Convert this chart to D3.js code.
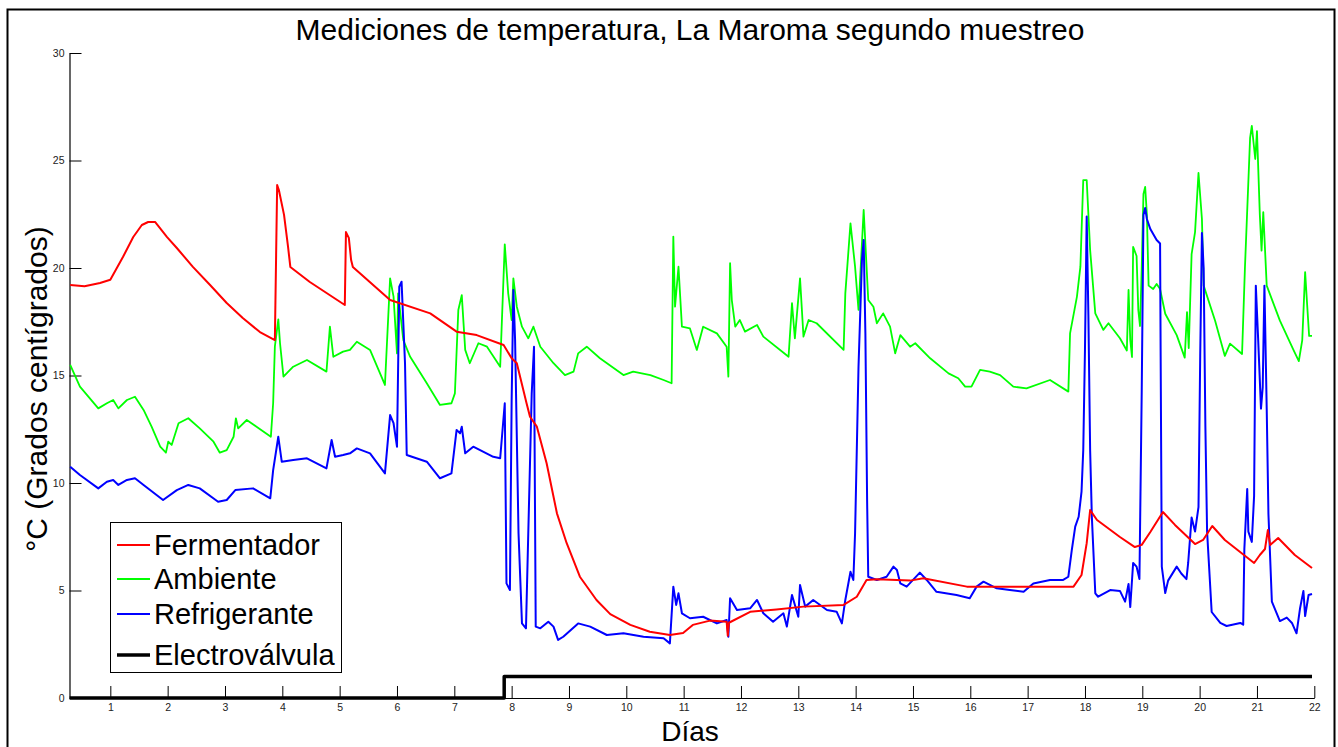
<!DOCTYPE html>
<html>
<head>
<meta charset="utf-8">
<script src="https://cdn.jsdelivr.net/npm/d3@7"></script>
<style>
  html, body { margin: 0; padding: 0; background: #fff; }
  svg { display: block; font-family: "Liberation Sans", Arial, sans-serif; }
</style>
</head>
<body>
<svg id="chart" width="1338" height="747"></svg>
<script>
// Temperature readings, [day, °C]
const fermentador = [[0.30,19.21],[0.55,19.15],[0.82,19.30],[1.0,19.45],[1.22,20.51],[1.40,21.44],[1.55,22.0],[1.66,22.14],[1.78,22.14],[1.99,21.44],[2.16,20.93],[2.44,20.05],[2.74,19.21],[3.03,18.37],[3.31,17.67],[3.61,17.02],[3.87,16.65],[3.91,23.86],[3.94,23.63],[4.03,22.47],[4.10,20.98],[4.14,20.05],[4.48,19.35],[5.09,18.28],[5.11,21.67],[5.16,21.4],[5.20,20.37],[5.23,20.05],[5.88,18.51],[6.58,17.89],[7.04,17.04],[7.39,16.88],[7.86,16.42],[8.0,15.8],[8.09,15.57],[8.26,13.71],[8.32,13.08],[8.44,12.62],[8.61,10.92],[8.79,8.59],[8.96,7.2],[9.19,5.64],[9.48,4.56],[9.72,3.9],[10.07,3.40],[10.41,3.08],[10.76,2.93],[10.99,3.02],[11.16,3.40],[11.46,3.60],[11.75,3.55],[11.77,2.9],[11.79,3.5],[12.16,4.01],[12.62,4.12],[13.09,4.25],[13.79,4.33],[14.02,4.71],[14.19,5.49],[14.37,5.52],[14.95,5.46],[15.18,5.57],[15.94,5.18],[16.93,5.18],[17.80,5.18],[17.94,5.72],[18.03,7.2],[18.09,8.74],[18.21,8.28],[18.61,7.49],[18.87,7.02],[18.99,7.12],[19.14,7.72],[19.36,8.65],[19.57,8.05],[19.92,7.16],[20.06,7.35],[20.22,8.0],[20.44,7.35],[20.95,6.28],[21.05,6.65],[21.14,6.93],[21.19,7.81],[21.23,7.12],[21.37,7.44],[21.66,6.65],[21.96,6.05]];

const ambiente = [[0.30,15.49],[0.47,14.48],[0.79,13.47],[0.94,13.71],[1.05,13.86],[1.14,13.47],[1.29,13.86],[1.43,14.01],[1.58,13.40],[1.72,12.62],[1.87,11.69],[1.97,11.41],[2.01,11.92],[2.07,11.77],[2.19,12.78],[2.36,13.01],[2.56,12.54],[2.80,11.92],[2.91,11.41],[3.03,11.53],[3.15,12.15],[3.19,13.01],[3.23,12.54],[3.38,12.93],[3.55,12.62],[3.80,12.15],[3.84,13.71],[3.87,16.34],[3.93,17.61],[3.96,16.50],[4.02,14.95],[4.19,15.41],[4.43,15.72],[4.77,15.18],[4.83,17.27],[4.89,15.87],[5.06,16.11],[5.18,16.19],[5.30,16.57],[5.53,16.19],[5.79,14.56],[5.88,19.52],[5.94,18.67],[6.0,16.03],[6.02,18.82],[6.11,16.65],[6.23,15.87],[6.52,14.64],[6.75,13.63],[6.95,13.71],[7.01,14.17],[7.07,18.05],[7.13,18.74],[7.19,16.19],[7.27,15.57],[7.42,16.50],[7.57,16.34],[7.80,15.41],[7.88,21.1],[7.94,18.82],[8.0,17.58],[8.03,19.52],[8.09,18.20],[8.18,17.27],[8.29,16.73],[8.38,17.27],[8.50,16.34],[8.73,15.57],[8.93,15.02],[9.08,15.18],[9.16,16.03],[9.31,16.34],[9.54,15.80],[9.95,15.02],[10.12,15.18],[10.42,15.02],[10.65,14.79],[10.79,14.64],[10.82,21.46],[10.85,18.20],[10.91,20.06],[10.97,17.27],[11.11,17.19],[11.23,16.19],[11.34,17.27],[11.58,16.96],[11.75,16.34],[11.78,14.95],[11.81,20.22],[11.84,18.51],[11.90,17.27],[11.98,17.58],[12.07,17.04],[12.28,17.35],[12.39,16.81],[12.83,15.87],[12.89,18.36],[12.94,16.73],[13.03,19.52],[13.09,16.81],[13.18,17.58],[13.32,17.43],[13.79,16.19],[13.82,18.82],[13.91,22.08],[13.99,20.06],[14.05,18.05],[14.14,22.70],[14.22,18.51],[14.31,18.20],[14.37,17.43],[14.48,17.89],[14.60,17.27],[14.69,16.03],[14.78,16.88],[14.95,16.34],[15.04,16.50],[15.30,15.80],[15.62,15.10],[15.79,14.87],[15.91,14.48],[16.02,14.48],[16.17,15.26],[16.34,15.18],[16.52,15.02],[16.75,14.48],[16.98,14.40],[17.39,14.79],[17.71,14.25],[17.74,16.96],[17.86,18.67],[17.92,20.06],[17.97,24.09],[18.03,24.09],[18.09,20.84],[18.18,17.89],[18.32,17.12],[18.41,17.43],[18.61,16.73],[18.73,16.16],[18.76,18.98],[18.79,16.65],[18.82,15.86],[18.84,20.98],[18.90,20.56],[18.93,18.05],[18.96,17.30],[18.99,20.0],[19.02,23.44],[19.05,23.77],[19.08,22.47],[19.11,19.18],[19.19,19.02],[19.25,19.26],[19.31,19.02],[19.40,17.87],[19.60,16.88],[19.74,15.83],[19.78,17.95],[19.81,16.28],[19.86,20.65],[19.92,21.67],[19.98,24.42],[20.04,22.28],[20.07,19.18],[20.27,17.55],[20.44,15.91],[20.53,16.48],[20.74,16.0],[20.79,20.0],[20.88,26.05],[20.91,26.61],[20.97,25.07],[21.0,26.37],[21.05,22.47],[21.08,20.81],[21.11,22.6],[21.17,19.18],[21.40,17.55],[21.63,16.23],[21.73,15.67],[21.79,16.65],[21.84,19.81],[21.87,18.51],[21.91,16.84],[21.96,16.84]];

const refrigerante = [[0.30,10.76],[0.47,10.37],[0.79,9.75],[0.94,10.06],[1.05,10.14],[1.14,9.91],[1.29,10.14],[1.43,10.22],[1.58,9.91],[1.92,9.21],[2.16,9.67],[2.36,9.91],[2.56,9.75],[2.88,9.13],[3.03,9.21],[3.18,9.67],[3.49,9.75],[3.79,9.29],[3.84,10.60],[3.93,12.15],[3.99,10.99],[4.19,11.07],[4.43,11.15],[4.77,10.68],[4.86,12.0],[4.92,11.22],[5.06,11.30],[5.18,11.38],[5.30,11.61],[5.53,11.38],[5.79,10.45],[5.88,13.16],[5.94,12.78],[6.0,11.69],[6.04,19.13],[6.08,19.36],[6.14,15.57],[6.17,11.30],[6.52,10.99],[6.75,10.22],[6.95,10.45],[7.04,12.47],[7.10,12.31],[7.13,12.62],[7.19,11.38],[7.33,11.69],[7.68,11.22],[7.80,11.15],[7.88,13.71],[7.91,5.33],[7.97,5.02],[8.0,13.86],[8.03,18.98],[8.06,16.65],[8.12,7.66],[8.18,3.47],[8.25,3.24],[8.29,7.66],[8.35,14.17],[8.39,16.34],[8.42,3.32],[8.50,3.24],[8.64,3.55],[8.73,3.32],[8.81,2.70],[8.90,2.85],[9.16,3.47],[9.37,3.32],[9.66,2.93],[9.95,3.01],[10.30,2.85],[10.65,2.78],[10.76,2.54],[10.82,5.18],[10.87,4.33],[10.91,4.87],[10.97,3.94],[11.11,3.71],[11.34,3.78],[11.58,3.47],[11.75,3.63],[11.78,2.85],[11.81,4.64],[11.93,4.09],[12.16,4.17],[12.28,4.56],[12.39,3.94],[12.56,3.55],[12.74,3.94],[12.80,3.32],[12.89,4.79],[13.0,3.78],[13.03,5.26],[13.12,4.25],[13.26,4.56],[13.50,4.09],[13.67,4.01],[13.76,3.47],[13.82,4.56],[13.91,5.87],[13.96,5.49],[13.99,7.66],[14.05,15.41],[14.11,20.37],[14.14,21.30],[14.17,16.96],[14.20,9.21],[14.22,5.64],[14.37,5.49],[14.54,5.64],[14.66,6.11],[14.72,5.95],[14.78,5.33],[14.89,5.18],[15.12,5.83],[15.24,5.49],[15.41,4.94],[15.76,4.79],[15.99,4.64],[16.11,5.18],[16.23,5.41],[16.46,5.10],[16.69,5.02],[16.93,4.94],[17.10,5.33],[17.39,5.49],[17.62,5.49],[17.71,5.64],[17.77,6.88],[17.83,7.97],[17.89,8.43],[17.94,9.60],[17.97,11.53],[18.0,16.19],[18.03,22.39],[18.06,17.73],[18.09,11.53],[18.12,8.43],[18.18,4.87],[18.23,4.71],[18.44,5.02],[18.61,4.98],[18.70,4.48],[18.76,5.30],[18.79,4.23],[18.84,6.28],[18.90,6.11],[18.95,5.53],[18.99,14.28],[19.02,22.47],[19.05,22.79],[19.08,22.28],[19.14,21.81],[19.25,21.30],[19.31,21.14],[19.32,15.91],[19.34,6.11],[19.40,4.88],[19.45,5.46],[19.60,6.11],[19.68,5.79],[19.77,5.53],[19.80,6.28],[19.86,8.40],[19.92,7.74],[19.98,8.88],[20.01,15.91],[20.04,21.63],[20.07,20.0],[20.10,12.65],[20.13,7.74],[20.21,4.0],[20.36,3.49],[20.47,3.35],[20.71,3.49],[20.76,3.41],[20.78,6.93],[20.83,9.72],[20.85,7.74],[20.91,7.26],[20.95,9.40],[20.98,19.18],[21.02,16.74],[21.07,13.46],[21.10,14.44],[21.13,19.18],[21.17,13.46],[21.20,8.56],[21.26,4.48],[21.40,3.58],[21.52,3.74],[21.61,3.49],[21.69,3.01],[21.75,4.15],[21.81,4.98],[21.84,3.81],[21.90,4.79],[21.96,4.84]];

// Valve state: 0 = closed, 1 = open
const electrovalvula = [[0.29,0],[7.87,0],[7.87,1],[21.96,1]];

const xTicks = d3.range(1, 23);
const yTicks = [0, 5, 10, 15, 20, 25, 30];

const series = [
  { name: "Fermentador", data: fermentador, color: "#ff0000", width: 2 },
  { name: "Ambiente", data: ambiente, color: "#00ff00", width: 1.8 },
  { name: "Refrigerante", data: refrigerante, color: "#0000ff", width: 2 },
  { name: "Electroválvula", data: electrovalvula, color: "#000000", width: 3.5 }
];
const drawOrder = [1, 2, 0, 3];

const svg = d3.select("#chart");
const W = 1338, H = 747;
const plot = { left: 69.5, right: 1314.3, top: 53, bottom: 698 };

svg.append("rect").attr("width", W).attr("height", H).attr("fill", "#fff");
// outer frame
svg.append("rect")
  .attr("x", 7.5).attr("y", 9.5).attr("width", 1327).attr("height", 750)
  .attr("fill", "none").attr("stroke", "#000").attr("stroke-width", 2);

const x = d3.scaleLinear().domain([0.288, 22]).range([plot.left, plot.right]);
const y = d3.scaleLinear().domain([0, 30]).range([plot.bottom, plot.top]);

// axes (ticks point inwards)
const xAxis = d3.axisBottom(x).tickValues(xTicks).tickSizeInner(-12).tickSizeOuter(0).tickPadding(6);
const yAxis = d3.axisLeft(y).tickValues(yTicks).tickSizeInner(-12).tickSizeOuter(0).tickPadding(5);

const gx = svg.append("g").attr("transform", `translate(0,${plot.bottom})`).call(xAxis);
const gy = svg.append("g").attr("transform", `translate(${plot.left},0)`).call(yAxis);
[gx, gy].forEach(g => {
  g.select(".domain").attr("stroke", "#000").attr("stroke-width", 1.2);
  g.selectAll(".tick line").attr("stroke", "#000").attr("stroke-width", 1);
  g.selectAll(".tick text").attr("fill", "#222").attr("font-size", 10.5)
    .attr("font-family", "Liberation Sans, Arial, sans-serif");
});

// lines
const line = d3.line().x(d => x(d[0])).y(d => y(d[1]));
drawOrder.forEach(i => {
  const s = series[i];
  svg.append("path")
    .datum(s.data)
    .attr("d", line)
    .attr("fill", "none")
    .attr("stroke", s.color)
    .attr("stroke-width", s.width)
    .attr("stroke-linejoin", "round");
});

// titles
svg.append("text").attr("x", 690).attr("y", 40).attr("text-anchor", "middle")
  .attr("font-size", 30).text("Mediciones de temperatura, La Maroma segundo muestreo");
svg.append("text").attr("x", 690).attr("y", 741).attr("text-anchor", "middle")
  .attr("font-size", 28).text("Días");
svg.append("text").attr("transform", "translate(47,389) rotate(-90)")
  .attr("text-anchor", "middle").attr("font-size", 30).text("°C (Grados centígrados)");

// legend
const leg = svg.append("g");
leg.append("rect").attr("x", 110.5).attr("y", 522.5).attr("width", 231).attr("height", 150)
  .attr("fill", "#fff").attr("stroke", "#000").attr("stroke-width", 1);
const legY = [545, 579, 614, 655];
series.forEach((s, i) => {
  leg.append("line").attr("x1", 117).attr("x2", 150).attr("y1", legY[i]).attr("y2", legY[i])
    .attr("stroke", s.color).attr("stroke-width", s.width);
  leg.append("text").attr("x", 154).attr("y", legY[i] + 10).attr("font-size", 29).text(s.name);
});
</script>
</body>
</html>
